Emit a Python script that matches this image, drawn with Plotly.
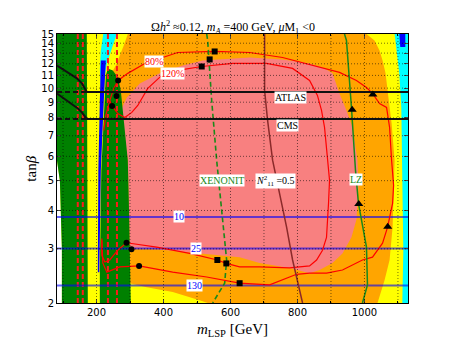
import math
import plotly.graph_objects as go

# axis ticks
x_ticks = [200, 400, 600, 800, 1000]
x_grid = [100, 200, 300, 400, 500, 600, 700, 800, 900, 1000, 1100]
y_ticks = [2, 3, 4, 5, 6, 7, 8, 9, 10, 11, 12, 13, 14, 15]

# filled regions, (m_LSP [GeV], tan beta)
yellow_x = [82, 1130, 1130, 96.6, 96.6, 94, 90.6, 82]
yellow_y = [15, 15, 2, 2, 3.0, 4.0, 5.0, 5.8]

cyan_right_x = [1090, 1130, 1130, 1113, 1116, 1113, 1110, 1104]
cyan_right_y = [15, 15, 2, 2, 2.97, 5.41, 8.65, 11.17]

blue_right_x = [1104, 1122, 1122, 1107]
blue_right_y = [15, 15, 13.6, 13.6]

orange_x = [293.4, 1006, 1030, 1045, 1054, 1063, 1069, 1081, 1090, 1084, 1075, 1060, 1039,
            531.9, 507.9, 427.5, 350, 299.4, 287.4, 275.5, 263.6, 245.7, 257.6, 269.5, 281.4]
orange_y = [15, 15, 14.29, 13.26, 12.30, 11.17, 9.83, 7.68, 5.83, 3.53, 2.76, 2.37, 2.0,
            2.0, 2.04, 2.17, 2.25, 2.32, 2.97, 6.28, 9.83, 11.25, 11.85, 12.77, 13.76]

pink_x = [275.5, 290.4, 329.2, 388.8, 457.4, 517, 657.1, 755.5, 836.1, 880.8, 904.6, 925.5, 946.3,
          964.2, 979.1, 982.1, 976.1, 961.2, 934.4, 904.6, 865.9, 836.1, 776.4, 686.9, 627.3,
          478.2, 379.8, 299.4, 293.4, 278.5]
pink_y = [8.59, 9.33, 10.36, 11.17, 11.85, 12.30, 12.58, 12.40, 12.03, 11.59, 11.17, 9.61, 8.46,
          7.45, 5.83, 4.76, 3.74, 3.27, 2.90, 2.70, 2.56, 2.50, 2.60, 2.70, 2.82,
          2.92, 2.99, 3.01, 5.83, 7.57]

green_l_x = [82, 171, 174, 96.6, 96.6, 94, 90.6, 82]
green_l_y = [15, 15, 2, 2, 3.0, 4.0, 5.0, 5.8]

green_r_x = [233.7, 248.7, 263.6, 272.5, 278.5, 284.4, 293.4, 296.4, 299.4, 302.3, 302.3,
             209.9, 209.9, 214.4, 223.3, 227.8]
green_r_y = [11.59, 11.42, 10.84, 9.83, 8.46, 7.29, 5.83, 4.32, 2.97, 2.2, 2.0,
             2.0, 2.52, 5.41, 9.12, 11.0]

cyan_left_x = [228, 260.6, 248.7, 239.7, 230.8, 221.8, 212.9, 209.9, 212.9, 220]
cyan_left_y = [15, 15, 13.76, 12.77, 12.03, 10.59, 10.2, 11.5, 13.26, 15]

blue_left_x = [212.9, 227.8, 221.8, 212.9, 208.4, 203.9, 205.4, 209.9]
blue_left_y = [12.3, 12.3, 9.12, 5.41, 2.52, 2.52, 5.41, 9.12]

# vertical red dashed limits
red_dash_x = [144, 159, 234, 261]

# direct detection lines and bino fraction
xenon_x = [528.9, 531.9, 543.8, 558.7, 573.6, 588.5, 582.6, 546.8]
xenon_y = [15, 14.29, 9.12, 5.83, 4.01, 2.76, 2.32, 2.0]
lz_x = [940.4, 946.3, 961.2, 973.2, 982.1, 1006, 1009, 994]
lz_y = [15, 14.29, 8.65, 5.41, 4.22, 3.04, 2.29, 2.0]
n11_x = [701.8, 701.8, 710.8, 725.7, 767.5, 785.4, 815.2]
n11_y = [15, 9.83, 7.85, 5.83, 3.53, 2.76, 2.0]

# LHC H/A -> tau tau limits
atlas_x = [82, 141.5, 156.5, 171.1, 1130]
atlas_y = [11.85, 10.76, 10.36, 9.71, 9.71]
cms_x = [82, 144.3, 156.2, 171.1, 1130]
cms_y = [9.61, 8.59, 8.34, 7.94, 7.94]
lhc_dash_x = [82, 171.1]

# blue contour levels
blue_labels = ["10", "25", "130"]
blue_tanb = [3.81, 3.01, 2.28]
blue_label_x = [446, 497, 494]

# 80% and 120% contours
c80_x = [221.8, 227.8, 239.7, 251.6, 264.5, 293.4, 344.1, 394.8, 442.5, 552.7, 657.1, 755.5,
         836.1, 865.9, 925.5, 976.1, 1006, 1024, 1045, 1066, 1075, 1081, 1087, 1084, 1075, 1069,
         1054, 1024, 994, 964.2, 934.4, 886.7, 836.1, 797.3, 716.8, 627.3, 528.9, 427.5, 327.1,
         269.5, 248.7, 230.8, 218.8, 215.9]
c80_y = [7.29, 8.15, 9.12, 9.98, 10.59, 11.17, 12.03, 12.58, 13.06, 13.16, 13.06, 12.58,
         11.94, 11.68, 11.25, 10.59, 10.05, 9.61, 8.91, 8.65, 7.45, 5.83, 4.83, 4.22, 3.74, 3.53,
         3.13, 2.82, 2.76, 2.66, 2.56, 2.50, 2.50, 2.48, 2.29, 2.32, 2.43, 2.52, 2.64,
         2.62, 2.56, 2.52, 2.70, 3.20]
c120_x = [239.7, 246.6, 263.6, 284.4, 305.3, 323.2, 353, 394.8, 442.5, 514, 606.4, 707.8, 785.4,
          836.1, 859.6, 871.8, 880.8, 889.7, 895.7, 892.7, 886.7, 874.8, 857, 836.1, 776.4,
          686.9, 627.3, 587.6, 560.8, 478.2, 379.8, 289.5, 263.6, 239.7, 224.8, 215.9, 215.9]
c120_y = [9.12, 8.74, 8.27, 8.03, 8.34, 8.78, 9.98, 11.00, 11.42, 11.76, 12.03, 12.03, 11.59,
          10.59, 9.47, 8.46, 7.45, 5.83, 5.02, 4.22, 3.27, 2.97, 2.76, 2.64, 2.60,
          2.62, 2.62, 2.69, 2.76, 2.90, 3.04, 3.14, 2.97, 2.76, 2.72, 2.86, 3.24]

# benchmark points
circle_x = [264.5, 259.7, 246.6, 289.5, 304.4, 327.1]
circle_y = [10.59, 9.42, 8.74, 3.14, 2.99, 2.64]
square_x = [552.7, 537.8, 514, 560.8, 587.6, 627.3]
square_y = [13.16, 12.40, 11.76, 2.76, 2.69, 2.32]
triangle_x = [1025, 963.3, 983, 1069.5]
triangle_y = [9.54, 8.50, 4.20, 3.54]

X_RANGE = [82, 1130]
SERIF = "Liberation Serif"

fig = go.Figure()


def region(xs, ys, color):
    fig.add_trace(go.Scatter(x=xs, y=ys, fill="toself", fillcolor=color, mode="lines",
                             line=dict(width=0), hoverinfo="skip", showlegend=False))


region(yellow_x, yellow_y, "#ffff00")
region(cyan_right_x, cyan_right_y, "#00ffff")
region(blue_right_x, blue_right_y, "#0000ff")
region(orange_x, orange_y, "#ffa500")
region(pink_x, pink_y, "#f88080")
region(green_l_x, green_l_y, "#008000")
region(green_r_x, green_r_y, "#008000")
region(cyan_left_x, cyan_left_y, "#00ffff")
region(blue_left_x, blue_left_y, "#0000ff")


def line(xs, ys, color, width, dash="solid"):
    fig.add_trace(go.Scatter(x=xs, y=ys, mode="lines", line=dict(color=color, width=width, dash=dash),
                             hoverinfo="skip", showlegend=False))


for xv in red_dash_x:
    line([xv, xv], [2, 15], "#ff1a1a", 2, "5px,3px")

for yv in blue_tanb:
    line(X_RANGE, [yv, yv], "rgba(0,0,255,0.6)", 2)

line(c80_x, c80_y, "#ff0000", 1.2)
line(c120_x, c120_y, "#ff0000", 1.2)
line(xenon_x, xenon_y, "#1a8a1a", 1.6, "5px,3px")
line(lz_x, lz_y, "#1a8a1a", 1.5)
line(n11_x, n11_y, "#8b2a2a", 1.5)
line(atlas_x, atlas_y, "#111111", 2)
line(cms_x, cms_y, "#111111", 2)
line(lhc_dash_x, [atlas_y[-1]] * 2, "#111111", 2, "5px,3px")
line(lhc_dash_x, [cms_y[-1]] * 2, "#111111", 2, "5px,3px")

for xs, ys, sym, size in [(circle_x, circle_y, "circle", 6), (square_x, square_y, "square", 6),
                          (triangle_x, triangle_y, "triangle-up", 8)]:
    fig.add_trace(go.Scatter(x=xs, y=ys, mode="markers", marker=dict(symbol=sym, size=size, color="black"),
                             hoverinfo="skip", showlegend=False))

shapes = []
for xv in x_grid:
    shapes.append(dict(type="line", xref="x", yref="paper", x0=xv, x1=xv, y0=0, y1=1, layer="above",
                       line=dict(color="rgba(0,0,0,0.55)", width=1, dash="1px,2px")))
for yv in y_ticks[1:-1]:
    shapes.append(dict(type="line", xref="paper", yref="y", x0=0, x1=1, y0=yv, y1=yv, layer="above",
                       line=dict(color="rgba(0,0,0,0.55)", width=1, dash="1px,2px")))


def label(x, y, text, color):
    return dict(x=x, y=math.log10(y), xref="x", yref="y", text=text, showarrow=False,
                font=dict(family=SERIF, size=10, color=color), bgcolor="white", borderpad=0)


annotations = [
    label(779.6, 9.33, "ATLAS", "black"),
    label(770.7, 7.57, "CMS", "black"),
    label(573.6, 5.02, "XENONIT", "#1a8a1a"),
    label(734.7, 4.99, "<i>N</i><sup>2</sup><sub>11</sub> =0.5", "black"),
    label(976, 5.05, "LZ", "#1a8a1a"),
    label(370.9, 12.21, "80%", "#ff0000"),
    label(427.5, 11.17, "120%", "#ff0000"),
]
for txt, yv, xv in zip(blue_labels, blue_tanb, blue_label_x):
    annotations.append(label(xv, yv, txt, "#0000ff"))

annotations += [
    dict(x=0.5, y=1.026, xref="paper", yref="paper", showarrow=False, yanchor="middle",
         text="Ω<i>h</i><sup>2</sup> ≈0.12, <i>m</i><sub><i>A</i></sub> =400 GeV, <i>μ</i>M<sub>1</sub> &lt;0",
         font=dict(family=SERIF, size=12, color="black")),
    dict(x=0.5, y=-0.1, xref="paper", yref="paper", showarrow=False, yanchor="middle",
         text="<i>m</i><sub>LSP</sub> [GeV]", font=dict(family=SERIF, size=15, color="black")),
    dict(x=-0.105, y=0.5, xref="paper", yref="paper", showarrow=False, textangle=-90,
         text="tan<i>β</i>", font=dict(family=SERIF, size=15, color="black")),
]

# the page body adds an 8 px offset, so the margins are shifted to compensate
fig.update_layout(
    width=454, height=341,
    margin=dict(l=49, r=54, t=26, b=46),
    paper_bgcolor="white", plot_bgcolor="white",
    shapes=shapes, annotations=annotations,
    font=dict(family="DejaVu Sans", size=10, color="black"),
)
fig.update_xaxes(range=X_RANGE, tickvals=x_ticks, ticks="inside", ticklen=4, showgrid=False,
                 showline=True, linecolor="black", linewidth=1, mirror="allticks", zeroline=False,
                 minor=dict(tickvals=x_grid, ticks="inside", ticklen=2, tickcolor="black"))
fig.update_yaxes(type="log", range=[math.log10(2), math.log10(15)], tickvals=y_ticks,
                 ticktext=[str(v) for v in y_ticks], ticks="inside", ticklen=4, showgrid=False,
                 showline=True, linecolor="black", linewidth=1, mirror="allticks", zeroline=False)

fig.write_html("out.html")
